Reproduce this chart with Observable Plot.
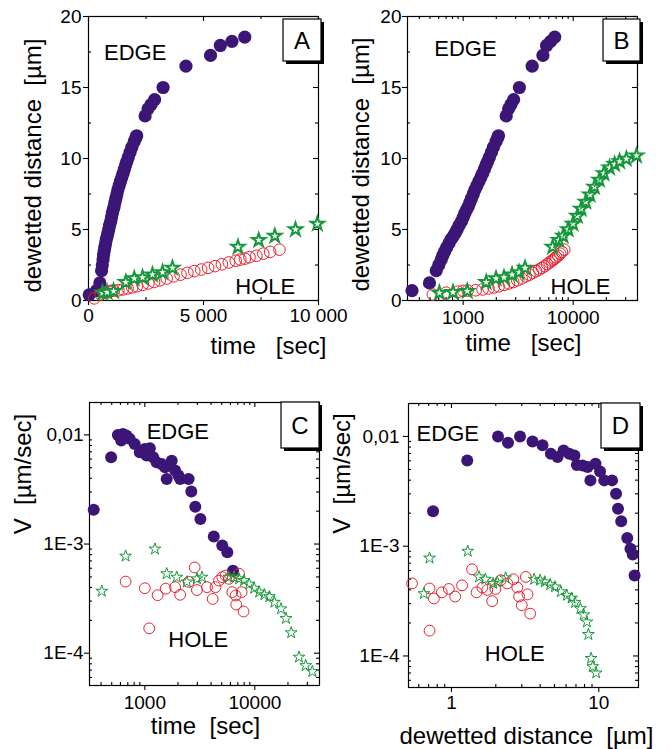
<!DOCTYPE html>
<html><head><meta charset="utf-8">
<script src="https://cdn.jsdelivr.net/npm/d3@7"></script>
<script src="https://cdn.jsdelivr.net/npm/@observablehq/plot@0.6"></script>
<style>
body{margin:0;background:#fff;}
#root{position:relative;width:670px;height:749px;overflow:hidden;background:#fff;}
.panel{position:absolute;}
</style></head><body><div id="root"></div>
<script>
// ---------- Data: dewetted distance vs time (panels A, B) ----------
const edgeTime = [30, 343, 494, 569, 600, 632, 655, 679, 710, 745, 775, 809, 845, 881, 920, 966, 1000, 1036, 1075, 1111, 1150, 1192, 1235, 1279, 1335, 1392, 1450, 1504, 1560, 1614, 1670, 1733, 1810, 1885, 1990, 2050, 2095, 2461, 2588, 2720, 2876, 3243, 4237, 5306, 5731, 6237, 6794];
const edgeDist = [0.40, 0.70, 1.24, 2.1, 2.5, 2.88, 3.2, 3.46, 3.75, 4.05, 4.3, 4.5, 4.75, 5.0, 5.3, 5.57, 5.85, 6.15, 6.4, 6.6, 6.9, 7.2, 7.5, 7.8, 8.1, 8.4, 8.7, 8.95, 9.25, 9.55, 9.8, 10.1, 10.45, 10.8, 11.2, 11.45, 11.6, 13.0, 13.5, 13.8, 14.15, 15.0, 16.5, 17.26, 17.96, 18.25, 18.55];

const holeTime = [250, 530, 700, 900, 1000, 1100, 1300, 1500, 1700, 1900, 2100, 2350, 2600, 2850, 3100, 3400, 3700, 4000, 4300, 4600, 4900, 5200, 5500, 5800, 6100, 6400, 6600, 6800, 7000, 7300, 7600, 7900, 8300];
const holeDist = [0.15, 0.42, 0.55, 0.62, 0.68, 0.70, 0.72, 0.78, 0.85, 0.92, 1.0, 1.1, 1.2, 1.3, 1.42, 1.55, 1.7, 1.82, 1.95, 2.07, 2.18, 2.3, 2.42, 2.55, 2.68, 2.8, 2.88, 2.95, 3.05, 3.15, 3.3, 3.42, 3.58];

const starTime = [608, 809, 1090, 1620, 1990, 2350, 2780, 3220, 3650, 6500, 7400, 8100, 9000, 9950, 10900, 11800, 13000, 14200, 15600, 17300, 19000, 21400, 23800, 26400, 30400, 37600];
const starDist = [0.54, 0.58, 0.66, 1.29, 1.55, 1.62, 1.82, 1.98, 2.29, 3.77, 4.25, 4.55, 5.0, 5.4, 5.95, 6.45, 6.95, 7.45, 8.0, 8.5, 8.95, 9.35, 9.6, 9.8, 9.97, 10.2];

// ---------- Data: velocity vs time (panel C) ----------
const cEdgeTime = [343, 494, 569, 610, 632, 679, 728, 809, 900, 1000, 1036, 1111, 1192, 1279, 1420, 1526, 1580, 1755, 1885, 2020, 2095, 2500, 2645, 2875, 3200, 4235, 5055, 5620, 6330];
const cEdgeV = [2.06e-3, 6.24e-3, 0.0100, 8.87e-3, 0.0102, 9.86e-3, 9.2e-3, 8.27e-3, 6.94e-3, 7.44e-3, 6.46e-3, 7.55e-3, 6.24e-3, 5.62e-3, 5.42e-3, 5.06e-3, 3.95e-3, 5.8e-3, 4.71e-3, 4.24e-3, 3.95e-3, 3.95e-3, 3.03e-3, 2.2e-3, 1.7e-3, 1.17e-3, 9.7e-4, 8.4e-4, 5.7e-4];

const cHoleTime = [669, 1000, 1096, 1307, 1547, 1885, 2095, 2500, 2837, 2975, 3677, 4140, 4390, 4716, 5060, 5420, 5800, 6230, 6690, 6780, 7180, 7580, 7890];
const cHoleV = [4.53e-4, 3.94e-4, 1.69e-4, 3.4e-4, 3.9e-4, 4.03e-4, 3.43e-4, 4.5e-4, 6.1e-4, 3.79e-4, 4.03e-4, 3.14e-4, 4.03e-4, 4.63e-4, 4.97e-4, 5.15e-4, 4.8e-4, 3.63e-4, 3.38e-4, 2.79e-4, 5.35e-4, 3.63e-4, 2.41e-4];

const cStarTime = [406, 669, 1235, 1580, 1950, 2410, 2975, 3310, 5800, 6450, 7180, 7980, 8880, 9860, 10950, 12200, 13550, 15050, 17300, 19200, 21400, 25200, 29000, 33300];
const cStarV = [3.7e-4, 7.75e-4, 9.0e-4, 5.35e-4, 4.97e-4, 4.5e-4, 4.8e-4, 4.97e-4, 4.97e-4, 4.97e-4, 4.8e-4, 4.63e-4, 4.3e-4, 3.94e-4, 3.63e-4, 3.43e-4, 3.3e-4, 2.93e-4, 2.55e-4, 2.08e-4, 1.54e-4, 9.2e-5, 7.7e-5, 6.8e-5];

// ---------- Data: velocity vs dewetted distance (panel D) ----------
const dEdgeDist = [0.75, 1.28, 2.07, 2.42, 2.92, 3.55, 4.15, 4.73, 5.25, 5.77, 6.3, 6.83, 7.1, 7.77, 8.4, 8.77, 9.5, 10.2, 10.9, 12.3, 13.1, 13.5, 14.2, 15.6, 16.4, 17.0, 17.5];
const dEdgeV = [2.08e-3, 6.05e-3, 0.01, 8.76e-3, 0.01, 9.0e-3, 8.3e-3, 6.95e-3, 6.5e-3, 7.46e-3, 6.95e-3, 6.7e-3, 5.5e-3, 5.45e-3, 5.26e-3, 3.98e-3, 5.64e-3, 4.8e-3, 3.98e-3, 3.98e-3, 3.0e-3, 2.2e-3, 1.69e-3, 1.19e-3, 9.5e-4, 8.4e-4, 5.4e-4];

const dHoleDist = [0.54, 0.71, 0.71, 0.76, 0.86, 0.96, 1.06, 1.18, 1.38, 1.48, 1.62, 1.75, 1.89, 1.99, 2.16, 2.39, 2.63, 2.8, 2.88, 3.0, 3.2, 3.28, 3.42];
const dHoleV = [4.58e-4, 4.12e-4, 1.7e-4, 3.34e-4, 3.8e-4, 4.08e-4, 3.48e-4, 4.4e-4, 6.16e-4, 3.8e-4, 4.2e-4, 4.0e-4, 3.16e-4, 4.08e-4, 4.9e-4, 4.58e-4, 5.0e-4, 4.2e-4, 3.48e-4, 2.9e-4, 5.25e-4, 3.64e-4, 2.43e-4];

const dStarDist = [0.65, 0.71, 1.29, 1.54, 1.7, 1.92, 2.05, 2.33, 3.64, 4.0, 4.3, 4.68, 5.04, 5.53, 6.07, 6.54, 6.9, 7.5, 7.9, 8.3, 8.5, 8.87, 9.1, 9.6];
const dStarV = [3.7e-4, 7.8e-4, 9.0e-4, 5.25e-4, 5.0e-4, 4.58e-4, 4.7e-4, 5.15e-4, 5.0e-4, 4.9e-4, 4.73e-4, 4.46e-4, 4.26e-4, 3.85e-4, 3.57e-4, 3.37e-4, 3.07e-4, 2.7e-4, 2.37e-4, 2.04e-4, 1.57e-4, 9.5e-5, 8.0e-5, 7.0e-5];

// ---------- Tick labels ----------
const linTimeTicks = [0, 5000, 10000];
const linTimeLabels = ["0", "5 000", "10 000"];
const distTicks = [0, 5, 10, 15, 20];
const distLabels = ["0", "5", "10", "15", "20"];
const logTimeTicks = [1000, 10000];
const logTimeLabels = ["1000", "10000"];
const velTicks = [0.01, 0.001, 0.0001];
const velLabels = ["0,01", "1E-3", "1E-4"];
const logDistTicks = [1, 10];
const logDistLabels = ["1", "10"];

const FONT = '"Liberation Sans", Arial, Helvetica, sans-serif';
const PURPLE = "#3b1677", RED = "#e8202f", GREEN = "#16983a";

const zip = (a, b) => a.map((v, i) => ({x: v, y: b[i]}));
const fmt = (ticks, labels) => d => labels[ticks.indexOf(d)];

function decadeMinor(lo, hi) {
  const out = [];
  for (let e = -6; e <= 6; e++) for (let m = 2; m <= 9; m++) {
    const v = m * Math.pow(10, e);
    if (v > lo * 1.0001 && v < hi * 0.9999) out.push(+v.toPrecision(6));
  }
  return out;
}

function frameTicks(W, H, xMajor, xMinor, yMajor, yMinor) {
  const s = {stroke: "black", strokeWidth: 1.1};
  return [
    Plot.ruleY(yMajor, {...s, insetLeft: -5, insetRight: W}),
    Plot.ruleY(yMinor, {...s, insetRight: W - 3}),
    Plot.ruleY(yMajor, {...s, insetLeft: W - 5}),
    Plot.ruleY(yMinor, {...s, insetLeft: W - 3}),
    Plot.ruleX(xMajor, {...s, insetTop: H, insetBottom: -5}),
    Plot.ruleX(xMinor, {...s, insetTop: H - 3}),
    Plot.ruleX(xMajor, {...s, insetBottom: H - 5}),
    Plot.ruleX(xMinor, {...s, insetBottom: H - 3}),
  ];
}

function addBox(svg, letter, x, y, w, h) {
  const g = d3.select(svg).append("g");
  g.append("rect").attr("x", x + 3).attr("y", y + 3).attr("width", w).attr("height", h).attr("fill", "black");
  g.append("rect").attr("x", x).attr("y", y).attr("width", w).attr("height", h)
    .attr("fill", "white").attr("stroke", "black").attr("stroke-width", 1.2);
  g.append("text").attr("x", x + w / 2).attr("y", y + h / 2 + 8.6).attr("text-anchor", "middle")
    .attr("font-size", 24).attr("font-family", FONT).attr("fill", "black").text(letter);
}

function panel(cfg) {
  const {width, height, ml, mr, mt, mb} = cfg;
  const W = width - ml - mr, H = height - mt - mb;
  const marks = [
    Plot.frame({stroke: "black", strokeWidth: 1.2}),
    ...frameTicks(W, H, cfg.xMajor, cfg.xMinor, cfg.yMajor, cfg.yMinor),
    Plot.axisX({ticks: cfg.xMajor, tickSize: 0, tickPadding: cfg.xPad, tickFormat: fmt(cfg.xMajor, cfg.xLabels), fontSize: 19, label: null}),
    Plot.axisY({ticks: cfg.yMajor, tickSize: 0, tickPadding: cfg.yPad, tickFormat: fmt(cfg.yMajor, cfg.yLabels), fontSize: 19, label: null}),
    ...cfg.data,
    Plot.text([cfg.xTitle], {frameAnchor: "bottom", textAnchor: "middle", dx: cfg.xTitlePos[0], dy: cfg.xTitlePos[1], lineAnchor: "bottom", fontSize: 24, text: d => d}),
    Plot.text([cfg.yTitle], {frameAnchor: "left", textAnchor: "middle", dx: cfg.yTitlePos[0], dy: cfg.yTitlePos[1], rotate: -90, lineAnchor: "bottom", fontSize: 24, text: d => d}),
    Plot.text(["EDGE"], {x: cfg.edgeLabel[0], y: cfg.edgeLabel[1], textAnchor: "middle", lineAnchor: "bottom", fontSize: 22, text: d => d}),
    Plot.text(["HOLE"], {x: cfg.holeLabel[0], y: cfg.holeLabel[1], textAnchor: "middle", lineAnchor: "bottom", fontSize: 22, text: d => d}),
  ];
  const svg = Plot.plot({
    width, height, marginLeft: ml, marginRight: mr, marginTop: mt, marginBottom: mb,
    x: cfg.x, y: cfg.y,
    style: {background: "transparent", overflow: "visible", fontFamily: FONT, color: "black"},
    marks
  });
  addBox(svg, cfg.letter, cfg.box[0], cfg.box[1], cfg.box[2], cfg.box[3]);
  const div = document.createElement("div");
  div.className = "panel";
  div.style.left = cfg.left + "px";
  div.style.top = cfg.top + "px";
  div.appendChild(svg);
  document.getElementById("root").appendChild(div);
}

function seriesMarks(edge, hole, star, big, filter) {
  const f = filter ? {filter} : {};
  return [
    Plot.dot(edge, {x: "x", y: "y", r: big ? 6.6 : 6, fill: PURPLE, stroke: "none", ...f}),
    Plot.dot(hole, {x: "x", y: "y", r: big ? 5.8 : 5.4, fill: "none", stroke: RED, strokeWidth: 1, ...f}),
    Plot.dot(star, {x: "x", y: "y", symbol: "star", r: big ? 4.2 : 3.7, fill: big ? "white" : "none", stroke: GREEN, strokeWidth: big ? 2 : 1, ...f}),
  ];
}

const edgeAB = zip(edgeTime, edgeDist), holeAB = zip(holeTime, holeDist), starAB = zip(starTime, starDist);

// Panel A
panel({
  letter: "A", left: 0, top: 0, width: 335, height: 370, ml: 88, mr: 17, mt: 16, mb: 70,
  x: {type: "linear", domain: [0, 10000]}, y: {type: "linear", domain: [0, 20]},
  xMajor: linTimeTicks, xLabels: linTimeLabels, xMinor: [2500, 7500], xPad: 8,
  yMajor: distTicks, yLabels: distLabels, yMinor: [2.5, 7.5, 12.5, 17.5], yPad: 7,
  data: seriesMarks(edgeAB, holeAB, starAB, true, d => d.x <= 10100),
  xTitle: "time   [sec]", xTitlePos: [65, 53],
  yTitle: "dewetted distance  [µm]", yTitlePos: [-48, 7],
  edgeLabel: [2030, 16.95], holeLabel: [7683, 0.47],
  box: [283, 19, 38, 42]
});

// Panel B
const bDom = [312, 38400];
panel({
  letter: "B", left: 335, top: 0, width: 335, height: 370, ml: 72, mr: 33, mt: 16, mb: 70,
  x: {type: "log", domain: bDom}, y: {type: "linear", domain: [0, 20]},
  xMajor: logTimeTicks, xLabels: logTimeLabels, xMinor: decadeMinor(bDom[0], bDom[1]), xPad: 10,
  yMajor: distTicks, yLabels: distLabels, yMinor: [2.5, 7.5, 12.5, 17.5], yPad: 6,
  data: seriesMarks(edgeAB, holeAB, starAB, true, d => d.x >= 300),
  xTitle: "time   [sec]", xTitlePos: [1, 50],
  yTitle: "dewetted distance  [µm]", yTitlePos: [-39, 6],
  edgeLabel: [1049, 17.25], holeLabel: [11650, 0.47],
  box: [268, 19, 37, 42]
});

// Panel C
const cDom = [314, 38700], vDomC = [5.06e-5, 0.0198];
panel({
  letter: "C", left: 0, top: 370, width: 335, height: 379, ml: 89, mr: 16, mt: 32, mb: 64,
  x: {type: "log", domain: cDom}, y: {type: "log", domain: vDomC},
  xMajor: logTimeTicks, xLabels: logTimeLabels, xMinor: decadeMinor(cDom[0], cDom[1]), xPad: 10,
  yMajor: velTicks, yLabels: velLabels, yMinor: decadeMinor(vDomC[0], vDomC[1]), yPad: 6,
  data: seriesMarks(zip(cEdgeTime, cEdgeV), zip(cHoleTime, cHoleV), zip(cStarTime, cStarV), false),
  xTitle: "time  [sec]", xTitlePos: [1, 48],
  yTitle: "V  [µm/sec]", yTitlePos: [-59, -70],
  edgeLabel: [1995, 0.00919], holeLabel: [3062, 1.135e-4],
  box: [281, 32, 38, 46]
});

// Panel D
const dDom = [0.511, 18.6], vDomD = [5.16e-5, 0.01997];
panel({
  letter: "D", left: 335, top: 370, width: 335, height: 379, ml: 73, mr: 32, mt: 33, mb: 62,
  x: {type: "log", domain: dDom}, y: {type: "log", domain: vDomD},
  xMajor: logDistTicks, xLabels: logDistLabels, xMinor: decadeMinor(dDom[0], dDom[1]), xPad: 8,
  yMajor: velTicks, yLabels: velLabels, yMinor: decadeMinor(vDomD[0], vDomD[1]), yPad: 9,
  data: seriesMarks(zip(dEdgeDist, dEdgeV), zip(dHoleDist, dHoleV), zip(dStarDist, dStarV), false),
  xTitle: "dewetted distance  [µm]", xTitlePos: [3, 56],
  yTitle: "V  [µm/sec]", yTitlePos: [-59, -72],
  edgeLabel: [0.944, 0.009], holeLabel: [2.69, 8.95e-5],
  box: [266, 33, 39, 45]
});
</script></body></html>
